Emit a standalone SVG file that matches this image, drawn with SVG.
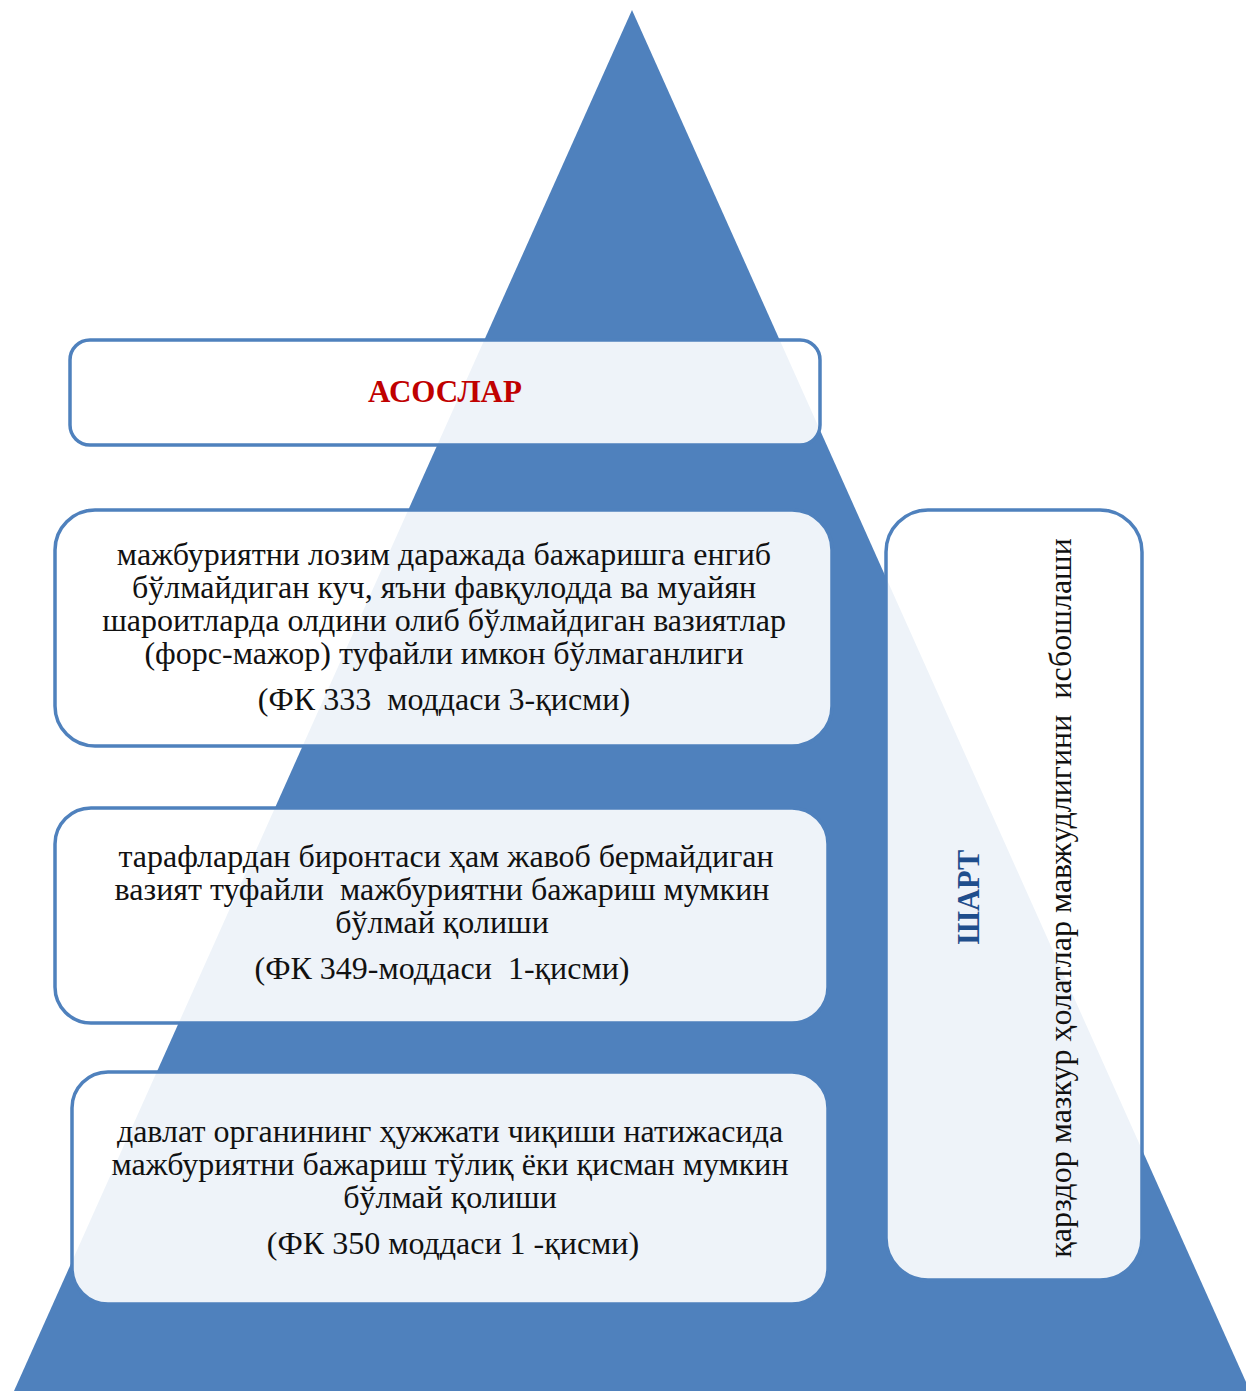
<svg xmlns="http://www.w3.org/2000/svg" width="1246" height="1391" viewBox="0 0 1246 1391">
<style>
.box{fill:#ffffff;fill-opacity:0.9;stroke:#4F81BD;stroke-width:3.5}
.t{font-family:"Liberation Serif","Times New Roman",serif;font-size:32px;fill:#111;text-anchor:middle;white-space:pre}
.h{font-family:"Liberation Serif","Times New Roman",serif;font-weight:bold;font-size:31px;text-anchor:middle}
</style>
<rect width="1246" height="1391" fill="#ffffff"/>
<g id="pyramid"><polygon points="632,10 1250,1391 14,1391" fill="#4F81BD"/></g>
<g id="title">
<rect class="box" x="70" y="340" width="750" height="105" rx="20"/>
<text class="h" x="445" y="402" fill="#C00000">АСОСЛАР</text>
</g>
<g id="ground1">
<rect class="box" x="55" y="510" width="777" height="236" rx="40"/>
<text class="t" x="444" y="565">мажбуриятни лозим даражада бажаришга енгиб</text>
<text class="t" x="444" y="598">бўлмайдиган куч, яъни фавқулодда ва муайян</text>
<text class="t" x="444" y="631">шароитларда олдини олиб бўлмайдиган вазиятлар</text>
<text class="t" x="444" y="664">(форс-мажор) туфайли имкон бўлмаганлиги</text>
<text class="t" x="444" y="710" xml:space="preserve">(ФК 333  моддаси 3-қисми)</text>
</g>
<g id="ground2">
<rect class="box" x="55" y="808" width="773" height="215" rx="36"/>
<text class="t" x="446" y="867">тарафлардан биронтаси ҳам жавоб бермайдиган</text>
<text class="t" x="442" y="900" xml:space="preserve">вазият туфайли  мажбуриятни бажариш мумкин</text>
<text class="t" x="442" y="933">бўлмай қолиши</text>
<text class="t" x="442" y="979" xml:space="preserve">(ФК 349-моддаси  1-қисми)</text>
</g>
<g id="ground3">
<rect class="box" x="72" y="1072" width="756" height="232" rx="36"/>
<text class="t" x="450" y="1142">давлат органининг ҳужжати чиқиши натижасида</text>
<text class="t" x="450" y="1175">мажбуриятни бажариш тўлиқ ёки қисман мумкин</text>
<text class="t" x="450" y="1208">бўлмай қолиши</text>
<text class="t" x="453" y="1254">(ФК 350 моддаси 1 -қисми)</text>
</g>
<g id="condition">
<rect class="box" x="886" y="510" width="256" height="770" rx="42"/>
<text class="h" transform="translate(979,897) rotate(-90)" fill="#1F4E8C" style="font-size:30.5px">ШАРТ</text>
<text class="t" transform="translate(1071,898) rotate(-90)" xml:space="preserve">қарздор мазкур ҳолатлар мавжудлигини  исбошлаши</text>
</g>
<g id="connectors"/>
</svg>
